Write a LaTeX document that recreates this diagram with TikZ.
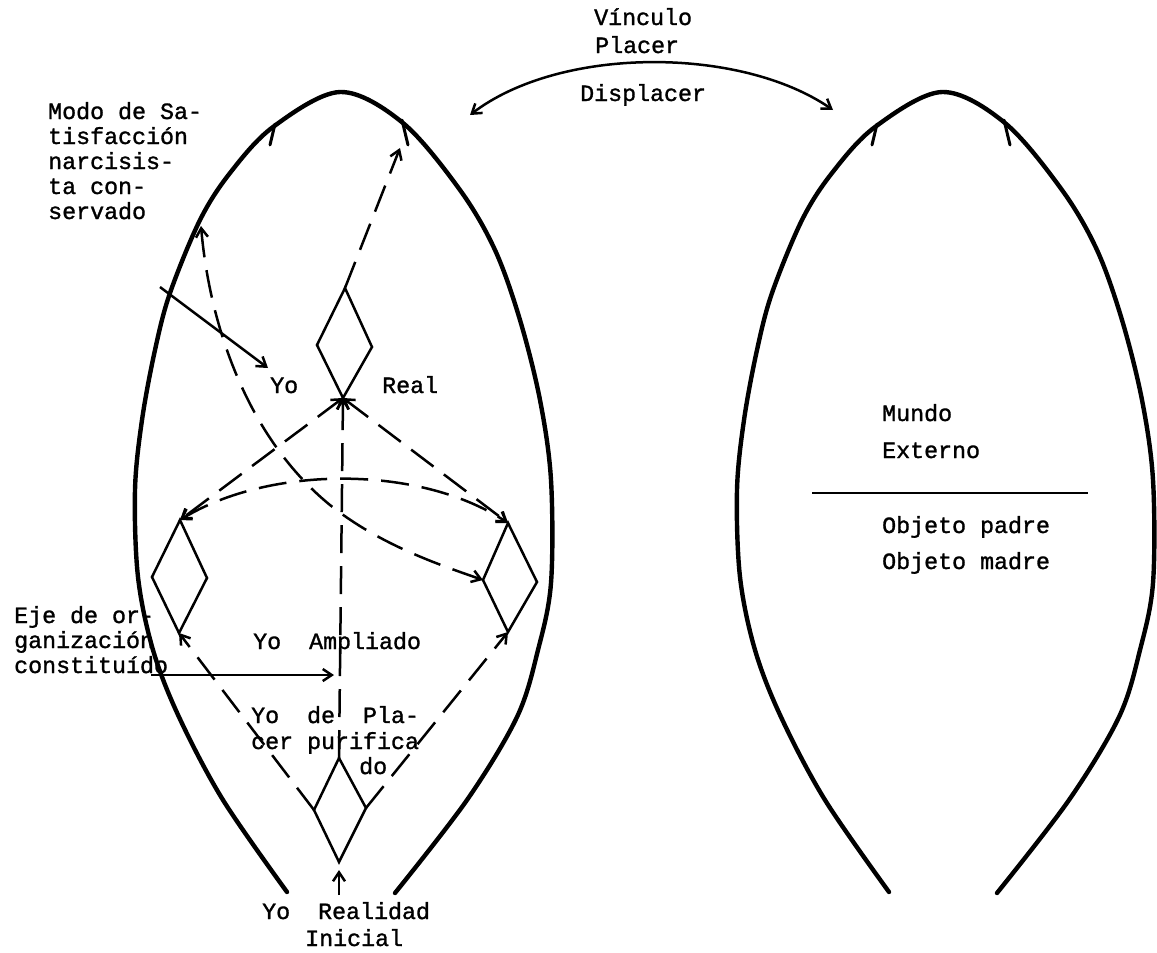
\documentclass[tikz,border=0pt]{standalone}
\usepackage{fontspec}
\newfontfamily\twfont{Liberation Mono}[FakeBold=1.3]
\usetikzlibrary{arrows.meta}
\begin{document}
\begin{tikzpicture}[x=1pt,y=-1pt,
  egg/.style={line width=4.4pt,line cap=round},
  barb/.style={line width=3pt,line cap=round},
  dsh/.style={line width=2.5pt,dash pattern=on 28pt off 13pt},
  sol/.style={line width=2.5pt},
  dia/.style={line width=2.5pt,line join=miter},
  arr/.style={-{Straight Barb[length=9pt,width=12pt]}},
  arrb/.style={{Straight Barb[length=9pt,width=12pt]}-{Straight Barb[length=9pt,width=12pt]}},
  lbl/.style={font=\twfont\fontsize{23.3}{25}\selectfont,inner sep=0pt,anchor=base west,align=left}]
\useasboundingbox (0,0) rectangle (1157,953);

% egg outlines
\def\eggpath{plot[smooth,tension=0.55] coordinates {(287,892) (223,800) (179,717) (153,650) (138,577) (135,490) (142,420) (155,350) (170,293) (200,220) (230,173) (273,127) (340,92) (403,123) (460,190) (495,250) (520,320) (540,400) (551,480) (551,583) (538,650) (517,717) (467,800) (395,893)}}
\draw[egg] \eggpath;
\draw[barb] (275,124) -- (270,145);
\draw[barb] (402,120) -- (408,145);
\begin{scope}[xshift=602pt]
\draw[egg] \eggpath;
\draw[barb] (275,124) -- (270,145);
\draw[barb] (402,120) -- (408,145);
\end{scope}

% diamonds
\coordinate (RT) at (345,288); \coordinate (RL) at (317,345);
\coordinate (RR) at (372,347); \coordinate (RB) at (343,398);
\coordinate (LT) at (180,520); \coordinate (LL) at (152,577);
\coordinate (LR) at (207,578); \coordinate (LB) at (179,633);
\coordinate (QT) at (508,523); \coordinate (QL) at (483,580);
\coordinate (QR) at (537,582); \coordinate (QB) at (508,632);
\coordinate (BT) at (339,758); \coordinate (BL) at (314,810);
\coordinate (BR) at (366,808); \coordinate (BB) at (339,862);
\draw[dia] (RT) -- (RL) -- (RB) -- (RR) -- cycle;
\draw[dia] (LT) -- (LL) -- (LB) -- (LR) -- cycle;
\draw[dia] (QT) -- (QL) -- (QB) -- (QR) -- cycle;
\draw[dia] (BT) -- (BL) -- (BB) -- (BR) -- cycle;

% free ends
\coordinate (topR) at (400,148);
\coordinate (modoTop) at (201,226);
\coordinate (ini) at (339,895);
\coordinate (modoS) at (160,287);
\coordinate (yoTip) at (268,368);
\coordinate (ejeS) at (151,675);
\coordinate (ejeE) at (334,675);
\coordinate (vL) at (470,115);
\coordinate (vR) at (833,110);

% dashed connectors
\draw[dsh,arr] (RT) -- (topR);
\draw[dsh,arrb] (RB) -- (LT);
\draw[dsh,arrb] (RB) -- (QT);
\draw[dsh,arrb] (LT) .. controls (270,465) and (420,465) .. (QT);
\draw[dsh,arr] (BT) -- (RB);
\draw[dsh,arr] (BL) -- (LB);
\draw[dsh,arr] (BR) -- (QB);
\draw[dsh,arrb] (modoTop) .. controls (210,330) and (250,440) .. (330,505)
   .. controls (380,545) and (440,565) .. (QL);

% solid arrows
\draw[sol,arr,shorten >=8pt] (ini) -- (BB);
\draw[sol,arr] (modoS) -- (yoTip);
\draw[sol,arr] (ejeS) -- (ejeE);
\draw[sol,arrb] (vL) .. controls (560,46) and (740,46) .. (vR);

% right divider
\coordinate (hL) at (812,493);
\coordinate (hR) at (1088,493);
\draw[sol] (hL) -- (hR);

% labels
\node[lbl] (vinc) at (594,25) {Vínculo};
\node[lbl] (plac) at (595,53) {Placer};
\node[lbl] (displ) at (580,101) {Displacer};
\node[lbl] (modo) at (48,219) {Modo de Sa-\\tisfacción\\narcisis-\\ta con-\\servado};
\node[lbl] (yo1) at (270,393) {Yo};
\node[lbl] (real) at (382,393) {Real};
\node[lbl] (mundo) at (882,421) {Mundo};
\node[lbl] (ext) at (882,458) {Externo};
\node[lbl] (padre) at (882,533) {Objeto padre};
\node[lbl] (madre) at (882,569) {Objeto madre};
\node[lbl] (ampl) at (253,649) {Yo~~Ampliado};
\node[lbl] (eje) at (14,673) {Eje de or-\\ganización\\constituído};
\node[lbl] (plac2) at (251,723) {Yo~~de~~Pla-};
\node[lbl] (puri) at (251,749) {cer purifica};
\node[lbl] (do) at (359,774) {do};
\node[lbl] (yoreal) at (262,919) {Yo~~Realidad};
\node[lbl] (inic) at (305,946) {Inicial};
\end{tikzpicture}
\end{document}
